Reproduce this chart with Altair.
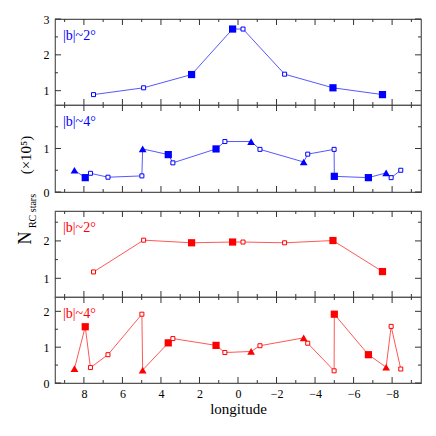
import altair as alt
import pandas as pd

# |b|~2 deg fields
lon_b2 = [7.5, 4.9, 2.41, 0.28, -0.26, -2.42, -4.93, -7.5]
typ_b2 = ["o", "o", "f", "f", "o", "o", "f", "f"]
val_b2_blue = [0.89, 1.08, 1.45, 2.72, 2.72, 1.46, 1.08, 0.89]
val_b2_red = [1.17, 2.02, 1.95, 1.97, 1.97, 1.95, 2.01, 1.18]

# |b|~4 deg fields
lon_b4 = [8.49, 7.93, 7.66, 6.75, 4.99, 4.95, 3.62, 3.38, 1.14, 0.68,
          -0.68, -1.14, -3.41, -3.62, -4.99, -5.0, -6.77, -7.69, -7.95, -8.45]
typ_b4 = ["t", "f", "o", "o", "o", "t", "f", "o", "f", "o",
          "t", "o", "t", "o", "o", "f", "f", "t", "o", "o"]
val_b4_blue = [0.50, 0.33, 0.43, 0.34, 0.37, 0.99, 0.86, 0.67, 0.99, 1.16,
               1.16, 0.98, 0.69, 0.87, 0.98, 0.36, 0.33, 0.44, 0.33, 0.50]
val_b4_red = [0.40, 1.57, 0.43, 0.79, 1.92, 0.36, 1.12, 1.24, 1.05, 0.85,
              0.88, 1.04, 1.26, 1.11, 0.34, 1.92, 0.79, 0.44, 1.58, 0.39]

x_major = [-8, -6, -4, -2, 0, 2, 4, 6, 8]
x_minor = [-9, -7, -5, -3, -1, 1, 3, 5, 7, 9]
x_domain = [-9.5, 9.5]

FONT = "Liberation Serif"
FRAME = "#555555"
TICK = "#333333"
W = 366


def panel(lon, val, typ, color, line_color, label, ydomain, ymajor, yminor, height,
          show_x, ytitle=False):
    df = pd.DataFrame({"lon": lon, "val": val, "typ": typ, "idx": list(range(len(lon)))})
    base = alt.Chart(df)
    xs = alt.Scale(domain=x_domain, nice=False, zero=False, reverse=True)
    ys = alt.Scale(domain=ydomain, nice=False, zero=False)
    y_left = alt.Axis(orient="left", values=ymajor, grid=False, domain=False, ticks=False,
                      format="d", labelPadding=6, labelFont=FONT, labelFontSize=12,
                      labelColor="black", title="")
    if show_x:
        x_axis = alt.Axis(orient="bottom", values=x_major, grid=False, domain=False,
                          ticks=False, labelPadding=5, labelFont=FONT, labelFontSize=12,
                          labelColor="black", title="longitude", titleFont=FONT,
                          titleFontSize=15, titleFontWeight="normal", titlePadding=2,
                          titleColor="black")
        xenc = alt.X("lon:Q", scale=xs, axis=x_axis)
    else:
        xenc = alt.X("lon:Q", scale=xs, axis=None)

    line = base.mark_line(color=line_color, strokeWidth=0.9).encode(
        x=xenc,
        y=alt.Y("val:Q", scale=ys, axis=y_left),
        order="idx:Q",
    )
    enc = dict(x=alt.X("lon:Q", scale=xs, axis=None), y=alt.Y("val:Q", scale=ys, axis=None))
    pf = base.transform_filter("datum.typ == 'f'").mark_point(
        shape="square", filled=True, color=color, size=52, opacity=1).encode(**enc)
    po = base.transform_filter("datum.typ == 'o'").mark_point(
        shape="square", filled=True, fill="white", stroke=color, strokeWidth=1,
        size=16, opacity=1).encode(**enc)
    pt = base.transform_filter("datum.typ == 't'").mark_point(
        shape="triangle-up", filled=True, color=color, size=60, opacity=1).encode(**enc)
    txt = alt.Chart(pd.DataFrame({"t": [label]})).mark_text(
        align="left", baseline="middle", font=FONT, fontSize=14, color=color
    ).encode(text="t:N", x=alt.value(8), y=alt.value(17))

    tick_layers = []
    for vals, sz in ((x_major, 6), (x_minor, 3)):
        tdf = pd.DataFrame({"t": vals})
        for pos in (sz / 2, height - sz / 2):
            tick_layers.append(alt.Chart(tdf).mark_tick(
                orient="vertical", size=sz, thickness=1, color=TICK, opacity=1
            ).encode(x=alt.X("t:Q", scale=xs, axis=None), y=alt.value(pos)))
    for vals, sz in ((ymajor, 6), (yminor, 3)):
        tdf = pd.DataFrame({"t": vals})
        for pos in (sz / 2, W - sz / 2):
            tick_layers.append(alt.Chart(tdf).mark_tick(
                orient="horizontal", size=sz, thickness=1, color=TICK, opacity=1
            ).encode(y=alt.Y("t:Q", scale=ys, axis=None), x=alt.value(pos)))

    layers = [line] + tick_layers + [pf, po, pt, txt]
    if ytitle:
        tdf = pd.DataFrame({"t": ["N", "RC stars", "(×10⁵)"]})
        n = alt.Chart(tdf.iloc[[0]]).mark_text(
            angle=270, align="center", baseline="middle", font=FONT, fontSize=18, color="black"
        ).encode(text="t:N", x=alt.value(-29), y=alt.value(133))
        rc = alt.Chart(tdf.iloc[[1]]).mark_text(
            angle=270, align="center", baseline="middle", font=FONT, fontSize=10, color="black"
        ).encode(text="t:N", x=alt.value(-22), y=alt.value(106))
        pw = alt.Chart(tdf.iloc[[2]]).mark_text(
            angle=270, align="center", baseline="middle", font=FONT, fontSize=15, color="black"
        ).encode(text="t:N", x=alt.value(-29), y=alt.value(50))
        layers += [n, rc, pw]
    return alt.layer(*layers).resolve_axis(x="independent", y="independent").properties(
        width=W, height=height)


BLUE = "#0000ff"
BLUE_L = "#4444ff"
RED = "#ff0000"
RED_L = "#ff4444"

p1 = panel(lon_b2, val_b2_blue, typ_b2, BLUE, BLUE_L, "|b|~2°", [0.6, 3.0],
           [1, 2, 3], [1.5, 2.5], 86, False)
p2 = panel(lon_b4, val_b4_blue, typ_b4, BLUE, BLUE_L, "|b|~4°", [0, 2.0],
           [0, 1], [0.5, 1.5], 87, False, ytitle=True)
p3 = panel(lon_b2, val_b2_red, typ_b2, RED, RED_L, "|b|~2°", [0.5, 2.8],
           [1, 2], [1.5, 2.5], 86, False)
p4 = panel(lon_b4, val_b4_red, typ_b4, RED, RED_L, "|b|~4°", [0, 2.4],
           [0, 1, 2], [0.5, 1.5], 86, True)

spacer = alt.Chart(pd.DataFrame({"v": [0]})).mark_point(opacity=0).encode(
    x=alt.value(0), y=alt.value(0)
).properties(width=W, height=19, view=alt.ViewBackground(stroke="transparent"))

chart = alt.vconcat(p1, p2, spacer, p3, p4, spacing=0, bounds="flush").properties(
    padding={"left": 8, "top": 4, "right": 5, "bottom": 5}
).configure_view(stroke=FRAME, strokeWidth=1.2).configure_axis(
    labelFont=FONT, titleFont=FONT
)

chart.save("out.html", embed_options={"renderer": "svg", "actions": False})
